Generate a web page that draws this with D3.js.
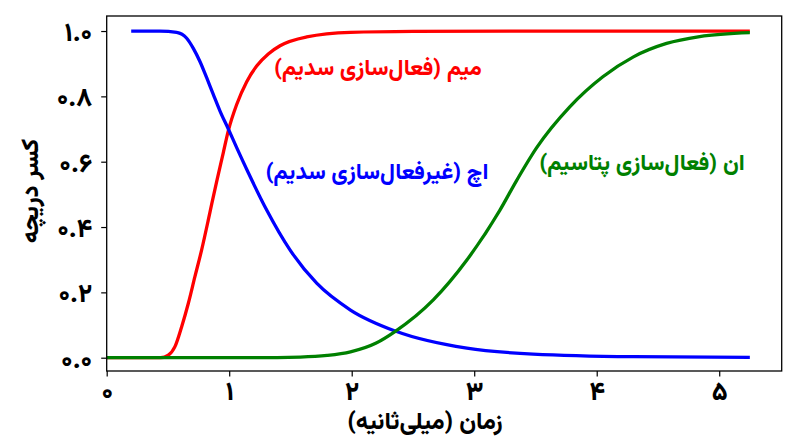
<!DOCTYPE html>
<html><head><meta charset="utf-8">
<script src="https://cdn.jsdelivr.net/npm/d3@7"></script>
<style>html,body{margin:0;padding:0;background:#fff}</style>
</head><body>
<svg id="c" width="800" height="447"></svg>
<script>
// ---- data ----
const mTime = [0, 0.44, 0.503, 0.557, 0.612, 0.666, 0.72, 0.775, 0.829, 0.857, 0.898, 0.952, 0.993, 1.061, 1.143, 1.224, 1.319, 1.415, 1.633, 1.99, 2.5, 3.5, 5.25];
const mVals = [0, 0, 0.008, 0.034, 0.095, 0.166, 0.248, 0.33, 0.421, 0.47, 0.54, 0.628, 0.695, 0.775, 0.845, 0.893, 0.93, 0.955, 0.982, 0.996, 0.999, 1.0, 1.0];
const hTime = [0.2, 0.435, 0.571, 0.653, 0.707, 0.762, 0.816, 0.870, 0.925, 0.993, 1.061, 1.156, 1.306, 1.496, 1.714, 1.99, 2.367, 2.94, 3.48, 4.3, 5.25];
const hVals = [1, 1, 0.996, 0.978, 0.947, 0.906, 0.857, 0.806, 0.755, 0.700, 0.643, 0.566, 0.452, 0.33, 0.228, 0.146, 0.08, 0.029, 0.011, 0.003, 0.001];
const nTime = [0, 1.2, 1.58, 1.8, 1.99, 2.2, 2.353, 2.666, 2.94, 3.21, 3.347, 3.51, 3.78, 4.05, 4.3, 4.57, 4.84, 5.25];
const nVals = [0, 0, 0.002, 0.007, 0.018, 0.045, 0.08, 0.177, 0.299, 0.452, 0.543, 0.643, 0.768, 0.86, 0.921, 0.962, 0.983, 0.995];
const seriesNames = ["میم (فعال‌سازی سدیم)", "اچ (غیرفعال‌سازی سدیم)", "ان (فعال‌سازی پتاسیم)"];
const seriesColors = ["#ff0000", "#0000ff", "#008000"];
const xTicks = [0, 1, 2, 3, 4, 5];
const xTickLabels = ["۰", "۱", "۲", "۳", "۴", "۵"];
const yTicks = [0, 0.2, 0.4, 0.6, 0.8, 1.0];
const yTickLabels = ["۰.۰", "۰.۲", "۰.۴", "۰.۶", "۰.۸", "۱.۰"];
const xTitle = "زمان (میلی‌ثانیه)";
const yTitle = "کسر دریچه";

// ---- layout ----
const L = 106.7, R = 781.7, T = 16, B = 371;
const FONT = "Vazirmatn, 'DejaVu Sans', sans-serif";
const svg = d3.select("#c");
const x = d3.scaleLinear().domain([0, 5.51]).range([L, R]);
const y = d3.scaleLinear().domain([-0.0407, 1.046]).range([B, T]);

const series = [
  {name: seriesNames[0], color: seriesColors[0], pts: mTime.map((t,i)=>[t, mVals[i]]), lx: 378, ly: 69},
  {name: seriesNames[1], color: seriesColors[1], pts: hTime.map((t,i)=>[t, hVals[i]]), lx: 377, ly: 173},
  {name: seriesNames[2], color: seriesColors[2], pts: nTime.map((t,i)=>[t, nVals[i]]), lx: 642, ly: 164}
];

svg.append("clipPath").attr("id","cl").append("rect")
  .attr("x", L).attr("y", T).attr("width", R-L).attr("height", B-T);

const line = d3.line().x(d=>x(d[0])).y(d=>y(d[1])).curve(d3.curveMonotoneX);
const g = svg.append("g").attr("clip-path","url(#cl)");
series.forEach(s=>{
  g.append("path").attr("d", line(s.pts)).attr("fill","none")
   .attr("stroke", s.color).attr("stroke-width", 3.3).attr("stroke-linejoin","round").attr("stroke-linecap","butt");
});

// axes
const xAxis = d3.axisBottom(x).tickValues(xTicks).tickFormat((d,i)=>xTickLabels[i]).tickSize(5.5).tickPadding(5);
const yAxis = d3.axisLeft(y).tickValues(yTicks).tickFormat((d,i)=>yTickLabels[i]).tickSize(5.5).tickPadding(9);
const gx = svg.append("g").attr("transform",`translate(0,${B})`).call(xAxis);
const gy = svg.append("g").attr("transform",`translate(${L},0)`).call(yAxis);
[gx, gy].forEach(a=>{
  a.select(".domain").remove();
  a.selectAll(".tick line").attr("stroke","#000").attr("stroke-width",1.2);
  a.selectAll(".tick text").attr("font-family", FONT).attr("font-weight",800)
   .attr("font-size", 26).attr("fill","#000");
});
gy.selectAll(".tick text").attr("direction","ltr").attr("dy","0.36em");

svg.append("rect").attr("x", L).attr("y", T).attr("width", R-L).attr("height", B-T)
  .attr("fill","none").attr("stroke","#000").attr("stroke-width",1.3);

// labels
series.forEach(s=>{
  svg.append("text").attr("x", s.lx).attr("y", s.ly).attr("text-anchor","middle")
    .attr("dominant-baseline","central").attr("direction","rtl")
    .attr("font-family", FONT).attr("font-weight",800).attr("font-size", 22.5)
    .attr("fill", s.color).text(s.name);
});

svg.append("text").attr("x", 425).attr("y", 423).attr("text-anchor","middle")
  .attr("dominant-baseline","central").attr("direction","rtl")
  .attr("font-family", FONT).attr("font-weight",800).attr("font-size", 24).text(xTitle);
svg.append("text").attr("transform","translate(32,191) rotate(-90)").attr("text-anchor","middle")
  .attr("dominant-baseline","central").attr("direction","rtl")
  .attr("font-family", FONT).attr("font-weight",800).attr("font-size", 24).text(yTitle);
</script>
</body></html>
